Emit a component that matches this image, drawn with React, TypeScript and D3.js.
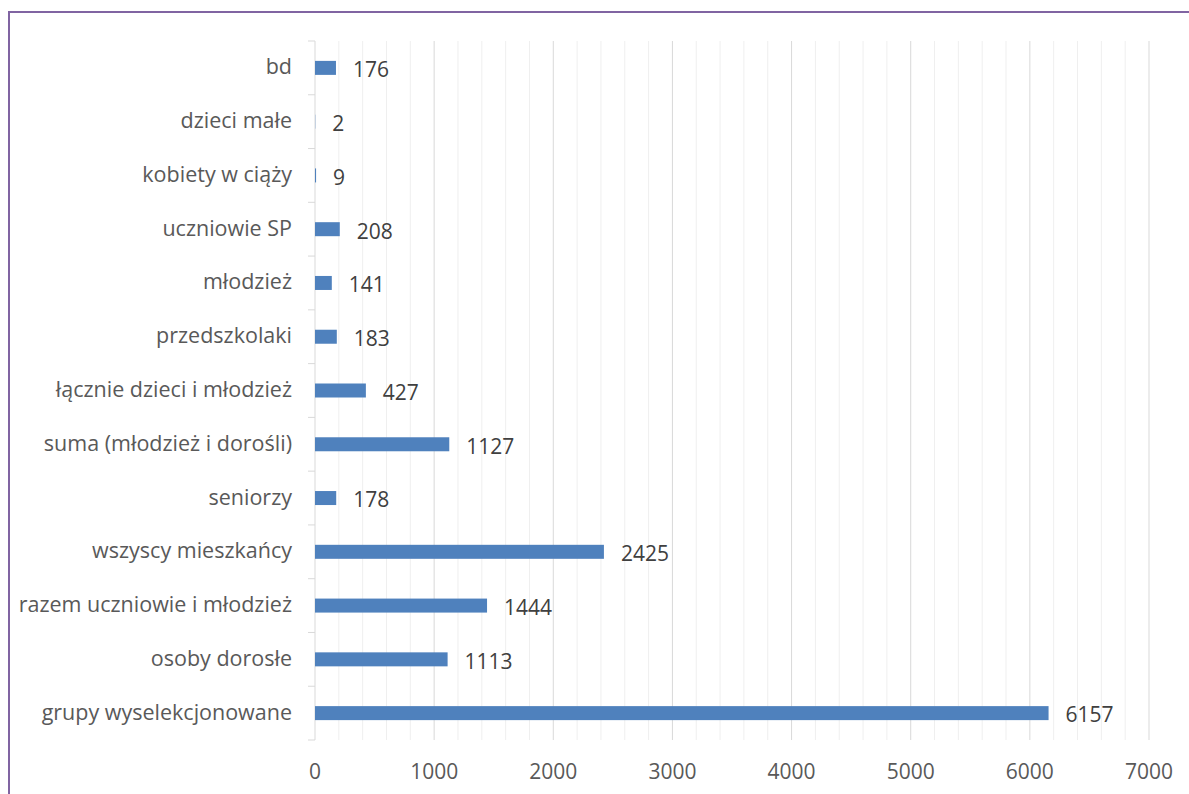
import React from "react";
import * as d3 from "d3";

const categories = [
  "bd",
  "dzieci małe",
  "kobiety w ciąży",
  "uczniowie SP",
  "młodzież",
  "przedszkolaki",
  "łącznie dzieci i młodzież",
  "suma (młodzież i dorośli)",
  "seniorzy",
  "wszyscy mieszkańcy",
  "razem uczniowie i młodzież",
  "osoby dorosłe",
  "grupy wyselekcjonowane",
];
const values = [176, 2, 9, 208, 141, 183, 427, 1127, 178, 2425, 1444, 1113, 6157];
const majorTicks = [0, 1000, 2000, 3000, 4000, 5000, 6000, 7000];
const minorTicks = d3.range(200, 7000, 200).filter((v) => v % 1000 !== 0);

const W = 1189;
const H = 794;
const FONT = "'Open Sans', sans-serif";

export default function App() {
  const left = 315;
  const right = 1149;
  const top = 41;
  const bottom = 740;
  const x = d3.scaleLinear().domain([0, 7000]).range([left, right]);
  const y = d3.scaleBand().domain(categories).range([top, bottom]).paddingInner(0).paddingOuter(0);
  const barH = 14;
  const bounds = [...categories.map((c) => y(c)!), bottom];

  return (
    <svg
      width={W}
      height={H}
      style={{ position: "absolute", left: 0, top: 0, background: "#fff" }}
      fontFamily={FONT}
    >
      <rect x={9} y={12} width={W + 10} height={H + 10} fill="#fff" stroke="#8064a2" strokeWidth={2} />
      {minorTicks.map((t) => (
        <line key={"m" + t} x1={x(t)} x2={x(t)} y1={top} y2={bottom} stroke="#efefef" strokeWidth={1} />
      ))}
      {majorTicks.slice(1).map((t) => (
        <line key={"M" + t} x1={x(t)} x2={x(t)} y1={top} y2={bottom} stroke="#d9d9d9" strokeWidth={1} />
      ))}
      <line x1={left} x2={left} y1={top} y2={bottom} stroke="#d9d9d9" strokeWidth={1} />
      {bounds.map((b, i) => (
        <line key={"t" + i} x1={left - 7} x2={left} y1={b} y2={b} stroke="#d9d9d9" strokeWidth={1} />
      ))}
      {categories.map((c, i) => {
        const cy = y(c)! + y.bandwidth() / 2;
        return (
          <g key={c}>
            <rect x={x(0)} y={cy - barH / 2} width={x(values[i]) - x(0)} height={barH} fill="#4f81bd" />
            <text x={left - 23} y={cy - 1} dy="0.35em" textAnchor="end" fontSize={21.5} fill="#595959">
              {c}
            </text>
            <text x={x(values[i]) + 17} y={cy + 2} dy="0.35em" textAnchor="start" fontSize={21} fill="#404040">
              {values[i]}
            </text>
          </g>
        );
      })}
      {majorTicks.map((t) => (
        <text key={"l" + t} x={x(t)} y={772} dy="0.35em" textAnchor="middle" fontSize={21} fill="#595959">
          {t}
        </text>
      ))}
    </svg>
  );
}
